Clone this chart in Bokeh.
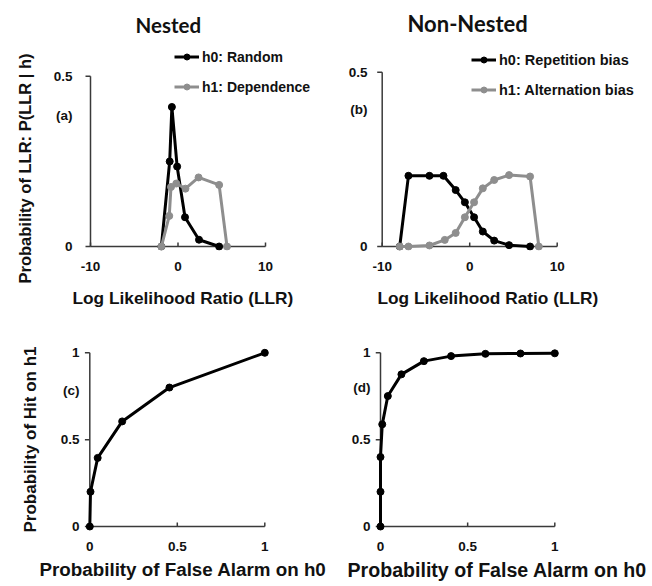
import math
from bokeh.plotting import figure
from bokeh.layouts import column, row
from bokeh.models import Range1d, FixedTicker, Legend, LegendItem, Title
from bokeh.embed import file_html
from bokeh.resources import INLINE

# ---------------- data ----------------
llr_ticks = [-10, 0, 10]
llr_tick_labels = ["-10", "0", "10"]
llr_bounds = (-10, 10)
prob_ticks = [0, 0.5]
prob_tick_labels = ["0", "0.5"]
prob_bounds = (0, 0.5)
roc_ticks = [0, 0.5, 1]
roc_tick_labels = ["0", "0.5", "1"]
roc_bounds = (0, 1)

panel_tags = ["(a)", "(b)", "(c)", "(d)"]
panel_tag_y = [0.385, 0.394, 0.783, 0.80]

# (a) Nested: LLR distributions
a_h0_llr = [-1.9, -0.95, -0.7, -0.1, 0.8, 2.4, 4.7]
a_h0_p = [0.0, 0.25, 0.41, 0.235, 0.086, 0.02, 0.0]
a_h1_llr = [-1.9, -1.0, -0.8, -0.2, 0.85, 2.35, 4.7, 5.6]
a_h1_p = [0.0, 0.09, 0.175, 0.185, 0.17, 0.203, 0.181, 0.0]

# (b) Non-Nested: LLR distributions
b_h0_llr = [-8.0, -7.0, -4.6, -3.0, -1.6, -0.55, 0.5, 1.5, 2.8, 4.5, 6.9]
b_h0_p = [0.0, 0.203, 0.203, 0.203, 0.162, 0.127, 0.084, 0.043, 0.017, 0.004, 0.0]
b_h1_llr = [-8.0, -7.0, -4.6, -2.85, -1.6, -0.55, 0.5, 1.5, 2.8, 4.5, 6.9, 7.9]
b_h1_p = [0.0, 0.0, 0.003, 0.019, 0.039, 0.084, 0.127, 0.167, 0.191, 0.205, 0.201, 0.0]

# (c) Nested ROC
c_false_alarm = [0.0, 0.004, 0.045, 0.185, 0.455, 1.0]
c_hit = [0.0, 0.2, 0.395, 0.605, 0.80, 1.0]

# (d) Non-Nested ROC
d_false_alarm = [0.0, 0.0, 0.0, 0.01, 0.042, 0.12, 0.249, 0.405, 0.602, 0.803, 1.0]
d_hit = [0.0, 0.2, 0.4, 0.588, 0.751, 0.876, 0.952, 0.981, 0.994, 0.996, 0.997]

BLACK = "#000000"
GRAY = "#8e8e8e"
AXIS = "#3a3a3a"
TXT = "#111111"
FONT = "Liberation Sans"
TFONT = "Lato"
TICK_SIZE = "13.5px"


def span(v0, p0, v1, p1, f_lo, f_hi):
    """Range so that value v0 lands on pixel p0 and v1 on p1, for a frame f_lo..f_hi."""
    ppu = (p1 - p0) / (v1 - v0)
    a = v0 + (f_lo - p0) / ppu
    b = v0 + (f_hi - p0) / ppu
    return min(a, b), max(a, b)


def base(W, H, fl, fr, ft, fb, xr, yr):
    p = figure(width=W, height=H, x_range=Range1d(*xr), y_range=Range1d(*yr),
               output_backend="svg", toolbar_location=None,
               min_border_left=fl, min_border_right=W - fr,
               min_border_top=ft, min_border_bottom=H - fb)
    p.outline_line_color = None
    p.xgrid.visible = False
    p.ygrid.visible = False
    p.background_fill_color = "white"
    p.border_fill_color = "white"
    return p


def label_axis(ax, ticks, labels, standoff, bounds="auto", title=None,
               title_size="17px", title_standoff=10):
    """Axis that only carries the tick labels (and maybe its title); no line, no marks."""
    ax.ticker = FixedTicker(ticks=ticks)
    ax.major_label_overrides = dict(zip(ticks, labels))
    ax.bounds = bounds
    ax.axis_line_color = None
    ax.major_tick_line_color = None
    ax.minor_tick_line_color = None
    ax.major_tick_in = 0
    ax.major_tick_out = 0
    ax.major_label_text_font = FONT
    ax.major_label_text_font_style = "bold"
    ax.major_label_text_font_size = TICK_SIZE
    ax.major_label_text_color = TXT
    ax.major_label_standoff = int(standoff)
    ax.axis_label = title
    if title:
        ax.axis_label_text_font = FONT
        ax.axis_label_text_font_style = "bold"
        ax.axis_label_text_font_size = title_size
        ax.axis_label_text_color = TXT
        ax.axis_label_standoff = int(title_standoff)


def axis_lines(p, xticks, xbounds, yticks, ybounds, y_at_x):
    """Axis rules through x = y_at_x and y = 0, with tick marks (in px)."""
    p.line(list(xbounds), [0, 0], line_color=AXIS, line_width=1.5)
    p.line([y_at_x, y_at_x], list(ybounds), line_color=AXIS, line_width=1.5)
    p.ray(x=xticks, y=[0] * len(xticks), length=4, length_units="screen",
          angle=math.pi / 2, line_color=AXIS, line_width=1.5)
    p.ray(x=[y_at_x] * len(yticks), y=yticks, length=5, length_units="screen",
          angle=math.pi, line_color=AXIS, line_width=1.5)


def side_title(p, text, side, align, offset, standoff, size, font=FONT, valign="bottom"):
    p.add_layout(Title(text=text, align=align, offset=offset, standoff=standoff,
                       vertical_align=valign, text_font=font, text_font_style="bold",
                       text_font_size=size, text_color=TXT), side)


def series(p, x, y, color):
    ln = p.line(x, y, line_color=color, line_width=3)
    sc = p.scatter(x, y, size=7, fill_color=color, line_color=color)
    return [ln, sc]


def add_legend(p, items, loc, size):
    lg = Legend(items=items, location=loc, padding=0, margin=0, spacing=14,
                label_standoff=3, glyph_width=25, glyph_height=15, label_height=15,
                label_text_font=FONT, label_text_font_style="bold",
                label_text_font_size=size, label_text_color=TXT,
                background_fill_alpha=0, border_line_color=None)
    p.add_layout(lg)


TOP_H = 323
BOT_H = 263

# ---------------- (a) ----------------
pa = base(326, TOP_H, 84, 322, 42, 250,
          span(-10, 90, 10, 265, 84, 322), span(0, 246, 0.5, 75, 250, 42))
label_axis(pa.xaxis[0], llr_ticks, llr_tick_labels, 11)
label_axis(pa.yaxis[0], prob_ticks + [panel_tag_y[0]], prob_tick_labels + [panel_tags[0]], 12)
axis_lines(pa, llr_ticks, llr_bounds, prob_ticks, prob_bounds, llr_bounds[0])
ra0 = series(pa, a_h0_llr, a_h0_p, BLACK)
ra1 = series(pa, a_h1_llr, a_h1_p, GRAY)
add_legend(pa, [LegendItem(label="h0: Random", renderers=ra0),
                LegendItem(label="h1: Dependence", renderers=ra1)], (90, 155.5), "14px")
side_title(pa, "Nested", "above", "left", 51, 14, "20.5px", TFONT)
side_title(pa, "Log Likelihood Ratio (LLR)", "below", "left", -12, 24, "17.3px")
side_title(pa, "Probability of LLR: P(LLR | h)", "left", "left", -33, 29, "16.5px",
           valign="top")

# ---------------- (b) ----------------
pb = base(325, TOP_H, 50, 323, 42, 250,
          span(-10, 55.7, 10, 230.7, 50, 323), span(0, 246, 0.5, 71, 250, 42))
label_axis(pb.xaxis[0], llr_ticks, llr_tick_labels, 11)
label_axis(pb.yaxis[0], prob_ticks + [panel_tag_y[1]], prob_tick_labels + [panel_tags[1]], 9)
axis_lines(pb, llr_ticks, llr_bounds, prob_ticks, prob_bounds, llr_bounds[0])
rb0 = series(pb, b_h0_llr, b_h0_p, BLACK)
rb1 = series(pb, b_h1_llr, b_h1_p, GRAY)
add_legend(pb, [LegendItem(label="h0: Repetition bias", renderers=rb0),
                LegendItem(label="h1: Alternation bias", renderers=rb1)], (95, 152.5), "14.5px")
side_title(pb, "Non-Nested", "above", "left", 31, 14, "22px", TFONT)
side_title(pb, "Log Likelihood Ratio (LLR)", "below", "left", 1, 24, "17.3px")

# ---------------- (c) ----------------
pc = base(326, BOT_H, 84, 270, 24, 208,
          span(0, 89.3, 1, 264.3, 84, 270), span(0, 203, 1, 29.3, 208, 24))
label_axis(pc.xaxis[0], roc_ticks, roc_tick_labels, 10)
label_axis(pc.yaxis[0], roc_ticks + [panel_tag_y[2]], roc_tick_labels + [panel_tags[2]], 5,
           bounds=roc_bounds, title="Probability of Hit on h1",
           title_size="17px", title_standoff=18)
axis_lines(pc, roc_ticks, roc_bounds, roc_ticks, roc_bounds, roc_bounds[0])
series(pc, c_false_alarm, c_hit, BLACK)
side_title(pc, "Probability of False Alarm on h0", "below", "left", -45, 6, "18.8px")

# ---------------- (d) ----------------
pd_ = base(325, BOT_H, 49, 234, 24, 208,
           span(0, 54, 1, 228.3, 49, 234), span(0, 203, 1, 29.3, 208, 24))
label_axis(pd_.xaxis[0], roc_ticks, roc_tick_labels, 10)
label_axis(pd_.yaxis[0], roc_ticks + [panel_tag_y[3]], roc_tick_labels + [panel_tags[3]], 5)
axis_lines(pd_, roc_ticks, roc_bounds, roc_ticks, roc_bounds, roc_bounds[0])
series(pd_, d_false_alarm, d_hit, BLACK)
side_title(pd_, "Probability of False Alarm on h0", "below", "left", -28, 6, "19.6px")

layout = column(row(pa, pb), row(pc, pd_))
open("out.html", "w").write(file_html(layout, INLINE))
